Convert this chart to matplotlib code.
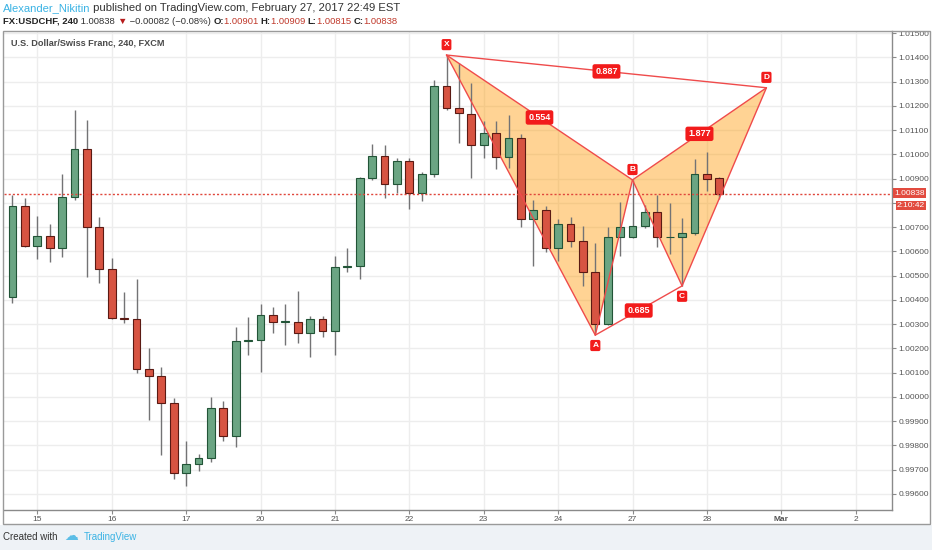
import numpy as np
import matplotlib
matplotlib.use('Agg')
import matplotlib.pyplot as plt
from matplotlib.patches import Rectangle, Polygon

# ---------------- data ----------------
bar_index = list(range(-2, 56))
opens = [1.00411, 1.00787, 1.00624, 1.00665, 1.00613, 1.00823, 1.01022, 1.00702, 1.00528, 1.00325,
         1.00322, 1.00114, 1.00086, 0.99975, 0.99687, 0.99725, 0.99749, 0.99953, 0.99841, 1.00232,
         1.00236, 1.00339, 1.00310, 1.00310, 1.00262, 1.00321, 1.00273, 1.00534, 1.00538, 1.00901,
         1.00995, 1.00880, 1.00974, 1.00839, 1.00918, 1.01282, 1.01193, 1.01167, 1.01039, 1.01087,
         1.00988, 1.01066, 1.00732, 1.00770, 1.00616, 1.00713, 1.00643, 1.00514, 1.00301, 1.00658,
         1.00660, 1.00705, 1.00761, 1.00658, 1.00661, 1.00677, 1.00918, 1.00901]
highs = [1.00834, 1.00820, 1.00747, 1.00713, 1.00919, 1.01182, 1.01144, 1.00743, 1.00572, 1.00432,
         1.00487, 1.00203, 1.00123, 0.99997, 0.99819, 0.99765, 1.00001, 0.99982, 1.00289, 1.00331,
         1.00385, 1.00369, 1.00385, 1.00438, 1.00335, 1.00335, 1.00582, 1.00613, 1.00905, 1.01045,
         1.01040, 1.00984, 1.00984, 1.00926, 1.01307, 1.01410, 1.01376, 1.01296, 1.01138, 1.01138,
         1.01162, 1.01083, 1.00814, 1.00787, 1.00732, 1.00743, 1.00705, 1.00634, 1.00700, 1.00805,
         1.00895, 1.00792, 1.00833, 1.00801, 1.00737, 1.00980, 1.01011, 1.00909]
lows = [1.00387, 1.00617, 1.00569, 1.00558, 1.00579, 1.00812, 1.00496, 1.00469, 1.00322, 1.00304,
        1.00099, 0.99904, 0.99760, 0.99660, 0.99632, 0.99694, 0.99731, 0.99818, 0.99793, 1.00174,
        1.00102, 1.00262, 1.00214, 1.00222, 1.00166, 1.00246, 1.00174, 1.00517, 1.00486, 1.00893,
        1.00819, 1.00839, 1.00777, 1.00808, 1.00905, 1.01183, 1.01046, 1.00901, 1.00984, 1.00940,
        1.00945, 1.00702, 1.00539, 1.00598, 1.00561, 1.00620, 1.00458, 1.00258, 1.00297, 1.00581,
        1.00655, 1.00695, 1.00617, 1.00588, 1.00458, 1.00668, 1.00851, 1.00815]
closes = [1.00787, 1.00624, 1.00665, 1.00613, 1.00826, 1.01022, 1.00702, 1.00528, 1.00325, 1.00322,
          1.00114, 1.00086, 0.99975, 0.99687, 0.99725, 0.99749, 0.99953, 0.99841, 1.00232, 1.00236,
          1.00339, 1.00310, 1.00312, 1.00262, 1.00321, 1.00273, 1.00534, 1.00538, 1.00901, 1.00993,
          1.00880, 1.00974, 1.00839, 1.00918, 1.01282, 1.01193, 1.01169, 1.01039, 1.01087, 1.00988,
          1.01066, 1.00732, 1.00770, 1.00616, 1.00715, 1.00643, 1.00514, 1.00301, 1.00658, 1.00702,
          1.00705, 1.00761, 1.00658, 1.00661, 1.00677, 1.00919, 1.00899, 1.00838]

day_positions = [0, 6, 12, 18, 24, 30, 36, 42, 48, 54, 60, 66]
day_labels = ['15', '16', '17', '20', '21', '22', '23', '24', '27', '28', 'Mar', '2']
price_ticks = [round(0.996 + 0.001 * k, 3) for k in range(20)]
hidden_tick = 1.008  # covered by the last-price boxes

pattern_names = ['X', 'A', 'B', 'C', 'D']
pattern_index = [33, 45, 48, 52, 58.8]
pattern_price = [1.01410, 1.00255, 1.00895, 1.00458, 1.01275]
ratio_labels = ['0.554', '0.685', '1.877', '0.887']

last_price = 1.00838
countdown = '2:10:42'

# ---------------- figure ----------------
W, H = 932, 550
fig = plt.figure(figsize=(W / 100, H / 100), dpi=100)
fig.patch.set_facecolor('white')
FAM = ['Liberation Sans', 'DejaVu Sans']

def fx(px):
    return px / W

def fy(py):
    return 1 - py / H

# bottom band
fig.patches.append(Rectangle((0, 0), 1, fy(525), transform=fig.transFigure,
                             facecolor='#eef2f6', edgecolor='none', zorder=0))
# outer frame
fig.patches.append(Rectangle((fx(3), fy(524)), fx(927), (524 - 31) / H, transform=fig.transFigure,
                             facecolor='none', edgecolor='#9a9a9a', lw=1.0, zorder=5))

L, R, T, B = 4, 892, 31, 510
ax = fig.add_axes([fx(L), fy(B), fx(R - L), (B - T) / H])
x0, dx = 37.3, 12.4
ax.set_xlim((L - x0) / dx, (R - x0) / dx)
ax.set_ylim(1.013 - (B - 81.7) / 24250, 1.013 + (81.7 - T) / 24250)

for s in ['left', 'top']:
    ax.spines[s].set_visible(False)
for s in ['right', 'bottom']:
    ax.spines[s].set_color('#8a8a8a')
    ax.spines[s].set_linewidth(1.0)

ax.yaxis.tick_right()
ax.set_yticks(price_ticks)
ax.set_yticklabels(['' if abs(p - hidden_tick) < 1e-9 else f'{p:.5f}' for p in price_ticks])
ax.set_xticks(day_positions)
ax.set_xticklabels(day_labels)
ax.tick_params(axis='y', length=3, width=0.8, color='#8a8a8a', labelsize=6.0,
               labelcolor='#555555', pad=1.5)
ax.tick_params(axis='x', length=3, width=0.8, color='#8a8a8a', labelsize=6.0,
               labelcolor='#555555', pad=1.5)
for lab in ax.get_xticklabels() + ax.get_yticklabels():
    lab.set_family(FAM)
for lab in ax.get_xticklabels():
    if lab.get_text() == 'Mar':
        lab.set_fontweight('bold')
ax.grid(True, color='#ededed', lw=1.0, zorder=0)
ax.set_axisbelow(True)

# candles
bw = 0.62
for i, o, h, l, c in zip(bar_index, opens, highs, lows, closes):
    up = c >= o
    ax.vlines(i, l, h, color='#737375', lw=1.0, zorder=2)
    fc = '#6ba583' if up else '#d75442'
    ec = '#225437' if up else '#5b1a13'
    bot = min(o, c)
    ht = max(abs(c - o), 0.000012)
    ax.add_patch(Rectangle((i - bw / 2, bot), bw, ht, facecolor=fc, edgecolor=ec,
                           lw=0.8, zorder=3))

# last price line
ax.axhline(last_price, color='#e0473c', lw=1.0, ls=(0, (1.5, 1.5)), zorder=4)

# harmonic pattern
P = list(zip(pattern_index, pattern_price))
X, A, Bp, C, D = P
ax.add_patch(Polygon([X, A, Bp], closed=True, facecolor='#ff9800', alpha=0.42,
                     edgecolor='none', zorder=1.5))
ax.add_patch(Polygon([Bp, C, D], closed=True, facecolor='#ff9800', alpha=0.42,
                     edgecolor='none', zorder=1.5))
lc = '#ef4b4b'
for p, q in [(X, A), (A, Bp), (X, Bp), (Bp, C), (C, D), (Bp, D), (X, D), (A, C)]:
    ax.plot([p[0], q[0]], [p[1], q[1]], color=lc, lw=1.0, zorder=5, solid_capstyle='round')

box_red = '#f21b1b'
offsets = {'X': 8, 'A': -8, 'B': 8, 'C': -8, 'D': 8}
for name, (xi, yp) in zip(pattern_names, P):
    ax.annotate(name, (xi, yp), xytext=(0, offsets[name] * 0.72 * 1.3), textcoords='offset points',
                ha='center', va='center', fontsize=6, color='white', fontweight='bold',
                family=FAM, zorder=7,
                bbox=dict(boxstyle='round,pad=0.25,rounding_size=0.2', fc=box_red, ec='none'))

for lab, (p, q) in zip(ratio_labels, [(X, Bp), (A, C), (Bp, D), (X, D)]):
    ax.text((p[0] + q[0]) / 2, (p[1] + q[1]) / 2, lab, ha='center', va='center',
            fontsize=6.5, color='white', fontweight='bold', family=FAM, zorder=7,
            bbox=dict(boxstyle='round,pad=0.3,rounding_size=0.25', fc=box_red, ec='none'))

# right-axis price boxes
ypx = 81.7 + (1.013 - last_price) * 24250
fig.text(fx(894), fy(ypx - 0.5), f'{last_price:.5f}', ha='left', va='center', fontsize=6,
         color='white', family=FAM, zorder=6,
         bbox=dict(boxstyle='square,pad=0.18', fc='#e24b3f', ec='none'))
fig.text(fx(897), fy(ypx + 12), countdown, ha='left', va='center', fontsize=6,
         color='white', family=FAM, zorder=6,
         bbox=dict(boxstyle='square,pad=0.12', fc='#e24b3f', ec='none'))

# title inside chart
fig.text(fx(11), fy(43), 'U.S. Dollar/Swiss Franc, 240, FXCM', ha='left', va='center',
         fontsize=6.6, color='#4a4a4a', fontweight='bold', family=FAM)

# header rows
renderer = fig.canvas.get_renderer()

def seq(x, y, pieces, size):
    for s, col, wt in pieces:
        t = fig.text(fx(x), fy(y), s, ha='left', va='center', fontsize=size, color=col,
                     fontweight=wt, family=FAM)
        x += t.get_window_extent(renderer).width

seq(3, 8, [('Alexander_Nikitin', '#3bb3e4', 'normal'),
           (' published on TradingView.com, February 27, 2017 22:49 EST', '#333333', 'normal')], 8.1)
seq(3, 21, [('FX:USDCHF, 240', '#222222', 'bold'),
            (' 1.00838 ', '#333333', 'normal'),
            ('\u25bc', '#b71c1c', 'normal'),
            (' \u22120.00082 (\u22120.08%) ', '#333333', 'normal'),
            ('O:', '#222222', 'bold'), ('1.00901 ', '#c0392b', 'normal'),
            ('H:', '#222222', 'bold'), ('1.00909 ', '#c0392b', 'normal'),
            ('L:', '#222222', 'bold'), ('1.00815 ', '#c0392b', 'normal'),
            ('C:', '#222222', 'bold'), ('1.00838', '#c0392b', 'normal')], 6.8)

# footer
fig.text(fx(3), fy(537), 'Created with', ha='left', va='center', fontsize=7,
         color='#333333', family=FAM)
fig.text(fx(64), fy(536), '\u2601', ha='left', va='center', fontsize=10,
         color='#5bbde6', family=['DejaVu Sans'])
fig.text(fx(84), fy(537), 'TradingView', ha='left', va='center', fontsize=7,
         color='#3bb3e4', family=FAM)

fig.savefig('out.png', dpi=100, facecolor=fig.get_facecolor())
